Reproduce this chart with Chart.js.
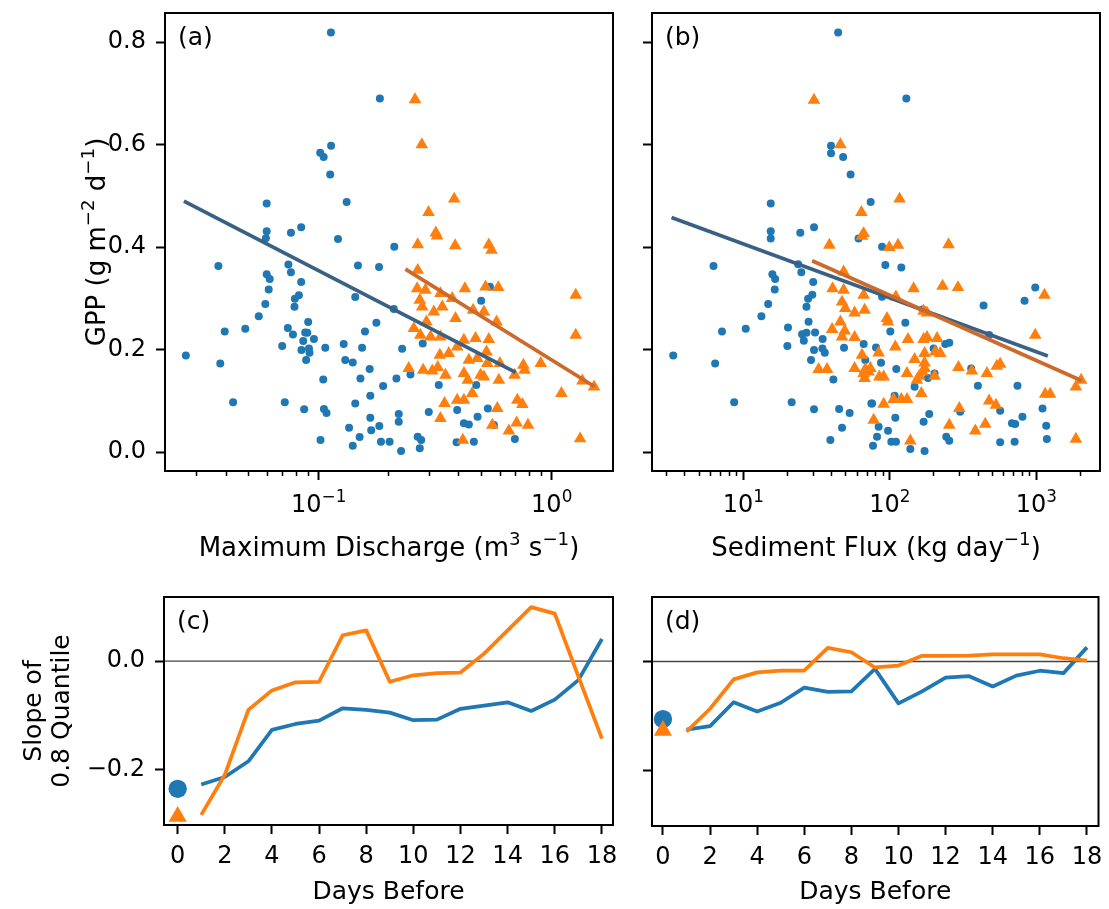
<!DOCTYPE html>
<html>
<head>
<meta charset="utf-8">
<script src="https://cdn.jsdelivr.net/npm/chart.js@4.4.0/dist/chart.umd.min.js"></script>
<style>
  body { margin: 0; background: #fff; }
  #wrap { position: relative; width: 1109px; height: 909px; }
  canvas { position: absolute; }
</style>
</head>
<body>
<div id="wrap">
  <canvas id="chartA" width="640" height="580" style="left:0;top:0"></canvas>
  <canvas id="chartB" width="484" height="580" style="left:625px;top:0"></canvas>
  <canvas id="chartC" width="640" height="329" style="left:0;top:580px"></canvas>
  <canvas id="chartD" width="484" height="329" style="left:625px;top:580px"></canvas>
</div>
<script>
// ---- data: (a) GPP vs maximum discharge, [x, y]
const A_BLUE = [
  [0.1128,0.819],[0.183,0.690],[0.113,0.598],[0.1015,0.584],[0.105,0.576],[0.112,0.542],[0.0598,0.485],
  [0.1318,0.488],[0.0598,0.431],[0.076,0.428],[0.0841,0.439],[0.0593,0.4175],[0.121,0.416],[0.211,0.4006],
  [0.0371,0.363],[0.0741,0.366],[0.076,0.351],[0.0598,0.347],[0.0616,0.3376],[0.0841,0.332],[0.061,0.3175],
  [0.0822,0.306],[0.079,0.299],[0.059,0.289],[0.0787,0.2835],[0.0553,0.265],[0.0901,0.2537],[0.0395,0.2355],
  [0.0484,0.2406],[0.0737,0.242],[0.0775,0.2296],[0.0875,0.2335],[0.0893,0.2328],[0.0858,0.2166],[0.0954,0.2205],
  [0.0697,0.2068],[0.0843,0.199],[0.0908,0.2023],[0.0913,0.1938],[0.0883,0.1795],[0.1067,0.2035],[0.0269,0.1886],
  [0.0378,0.173],[0.128,0.2107],[0.1535,0.2035],[0.130,0.1795],[0.140,0.175],[0.158,0.2355],[0.1768,0.2523],
  [0.1435,0.3024],[0.1474,0.3643],[0.1815,0.361],[0.1655,0.162],[0.1046,0.1418],[0.151,0.1438],[0.189,0.1288],
  [0.1665,0.1099],[0.1435,0.095],[0.0429,0.097],[0.0715,0.097],[0.0866,0.0833],[0.1053,0.0839],[0.108,0.0761],
  [0.1665,0.067],[0.182,0.0507],[0.168,0.0423],[0.135,0.0474],[0.1498,0.0293],[0.1018,0.0234],[0.140,0.0124],
  [0.185,0.0201],[0.2015,0.0201],[0.543,0.3226],[0.498,0.2953],[0.21,0.279],[0.2795,0.212],[0.228,0.2016],
  [0.3275,0.1307],[0.2475,0.1516],[0.2155,0.1438],[0.4745,0.1307],[0.393,0.082],[0.2967,0.078],[0.532,0.0852],
  [0.4806,0.0689],[0.2205,0.0741],[0.2205,0.0591],[0.4197,0.056],[0.4408,0.054],[0.565,0.0527],[0.266,0.0299],
  [0.2753,0.0234],[0.2715,0.0072],[0.2257,0.002],[0.3904,0.019],[0.4633,0.0201],[0.695,0.0254]
];
const A_ORANGE = [
  [0.259,0.688],[0.277,0.600],[0.3815,0.494],[0.296,0.468],[0.318,0.428],[0.322,0.422],[0.266,0.405],
  [0.385,0.403],[0.537,0.4045],[0.552,0.394],[0.266,0.355],[0.2645,0.319],[0.287,0.316],[0.333,0.3096],
  [0.424,0.319],[0.520,0.3226],[0.590,0.3213],[1.268,0.3063],[0.2715,0.2966],[0.278,0.2835],[0.339,0.2835],
  [0.312,0.2738],[0.374,0.2999],[0.3865,0.261],[0.460,0.277],[0.5115,0.2738],[0.580,0.2542],[0.290,0.2542],
  [0.256,0.2413],[0.273,0.2283],[0.302,0.225],[0.333,0.225],[0.4197,0.2185],[0.471,0.2218],[0.537,0.2199],
  [0.393,0.2055],[0.3616,0.1926],[0.331,0.1893],[0.525,0.1957],[0.441,0.1795],[0.479,0.1828],[0.529,0.173],
  [0.599,0.173],[0.897,0.173],[0.7556,0.1698],[0.2433,0.1633],[0.2807,0.160],[0.307,0.1586],[0.3243,0.1653],
  [0.35,0.1502],[0.42,0.1535],[0.4365,0.1405],[0.495,0.1502],[0.5115,0.147],[0.593,0.1405],[0.693,0.1502],
  [0.765,0.160],[0.456,0.1145],[0.393,0.1015],[0.42,0.1015],[0.3467,0.095],[0.712,0.1015],[0.748,0.093],
  [0.584,0.0852],[0.333,0.0657],[0.556,0.0527],[0.707,0.0572],[0.791,0.0527],[0.655,0.0416],[0.4154,0.0234],
  [1.101,0.1145],[1.268,0.2283],[1.355,0.139],[1.52,0.1274],[1.324,0.026]
];
const A_FIT_BLUE = [[0.02639,0.4898],[0.70,0.1555]];
const A_FIT_ORANGE = [[0.2355,0.357],[1.531,0.1274]];

// ---- data: (b) GPP vs sediment flux, [x, y]
const B_BLUE = [
  [44.4,0.819],[39.7,0.598],[39.7,0.583],[48,0.576],[54,0.542],[15.4,0.485],[74,0.488],[15.4,0.431],
  [15.4,0.417],[24.5,0.428],[30.4,0.439],[61.2,0.417],[129.6,0.690],[88.5,0.4006],
  [6.27,0.363],[23.7,0.3668],[24.9,0.351],[15.8,0.347],[16.5,0.3376],[30,0.332],[16.4,0.3175],[29.6,0.307],
  [27.7,0.299],[14.8,0.289],[27,0.2835],[13.3,0.265],[27.9,0.2542],[7.16,0.2355],[10.4,0.2406],[20.2,0.2432],
  [25.2,0.230],[27,0.2328],[30.9,0.2335],[25.9,0.217],[34.8,0.2205],[20,0.2068],[30.4,0.199],[34.7,0.2023],
  [36,0.1938],[29,0.1795],[48.7,0.2035],[66.3,0.2107],[68,0.1795],[3.33,0.1886],[6.43,0.173],[41.2,0.1418],
  [75.7,0.095],[8.67,0.097],[21.4,0.097],[30.4,0.0833],[45.1,0.0839],[53.2,0.0761],[47.2,0.0474],[39.3,0.0234],
  [76.8,0.0124],[93.2,0.3649],[119.8,0.3604],[982,0.3213],[830,0.2953],[436,0.2862],[88.5,0.303],[167.4,0.2784],
  [127.6,0.2523],[100.8,0.2355],[476,0.2283],[238.8,0.2107],[254.4,0.2133],[199,0.2023],[80.5,0.2043],[87.1,0.1743],
  [110.7,0.162],[359,0.1633],[202,0.1535],[182,0.1444],[147.6,0.1274],[399,0.1294],[743,0.1294],[107.8,0.1099],
  [74.8,0.095],[109,0.067],[83.9,0.0494],[97.2,0.0416],[81.8,0.0299],[102.4,0.0201],[110.2,0.0201],[138,0.0059],
  [172.6,0.002],[170,0.0591],[185.7,0.0741],[242.6,0.0299],[254.4,0.022],[302,0.0787],[566,0.0806],[681,0.056],
  [716,0.0546],[803,0.0689],[566,0.0189],[710,0.0201],[1101,0.0852],[1167,0.0513],[1179,0.0254]
];
const B_ORANGE = [
  [30.4,0.687],[46,0.600],[64,0.468],[66.3,0.4267],[64.6,0.4215],[38.7,0.404],[116.6,0.494],[113.7,0.404],
  [99.2,0.3994],[251.7,0.405],[48.4,0.3518],[40.7,0.319],[48.4,0.316],[66.3,0.3063],[47.2,0.293],[49.7,0.2804],
  [57.5,0.2718],[67.3,0.277],[46,0.2542],[40.4,0.2394],[49.2,0.2367],[47.2,0.225],[57.5,0.2238],[64.6,0.1893],
  [32.7,0.1614],[37.3,0.1614],[57.5,0.1633],[68,0.1616],[73.6,0.1633],[66.3,0.1535],[67.3,0.1438],[77.6,0.0624],
  [145.3,0.319],[229,0.3239],[291.7,0.3213],[1135,0.3063],[110,0.303],[170,0.2751],[179.3,0.2718],[95.6,0.261],
  [97.2,0.2542],[982,0.2283],[133,0.2199],[170,0.2199],[179.3,0.2238],[210,0.2218],[109,0.2055],[83.9,0.1938],
  [172.6,0.1926],[204,0.1957],[220.8,0.1926],[147.6,0.1809],[172.6,0.1743],[71.6,0.1567],[172.6,0.1633],
  [294,0.1653],[363,0.1586],[460,0.1535],[537,0.1678],[566,0.1717],[131,0.1535],[158.8,0.1483],[202,0.1483],
  [167.4,0.1567],[84.8,0.147],[90.8,0.147],[153,0.1405],[164,0.1145],[106.1,0.1028],[119.8,0.1028],[131,0.1028],
  [90.8,0.0937],[298,0.0852],[476,0.1001],[530,0.0917],[1148,0.1132],[1241,0.1132],[1859,0.1274],[2019,0.1405],
  [1859,0.0254],[254.4,0.0527],[383,0.0416],[448,0.0546],[138,0.022]
];
const B_FIT_BLUE = [[3.24,0.458],[1197,0.1873]];
const B_FIT_ORANGE = [[29.5,0.3733],[2040,0.139]];

// ---- data: (c), (d) slope of 0.8 quantile vs days before
const DAYS = [1,2,3,4,5,6,7,8,9,10,11,12,13,14,15,16,17,18];
const C_BLUE = [-0.228,-0.214,-0.185,-0.127,-0.116,-0.110,-0.087,-0.090,-0.095,-0.109,-0.108,-0.088,-0.082,-0.076,-0.092,-0.071,-0.035,0.041];
const C_ORANGE = [-0.284,-0.210,-0.090,-0.054,-0.039,-0.038,0.048,0.057,-0.038,-0.026,-0.022,-0.021,0.014,0.057,0.100,0.088,-0.028,-0.143];
const C_DAY0 = { blue: -0.236, orange: -0.287 };
const D_BLUE = [-0.1255,-0.119,-0.075,-0.092,-0.076,-0.048,-0.056,-0.055,-0.0135,-0.077,-0.055,-0.0295,-0.027,-0.046,-0.026,-0.017,-0.0215,0.026];
const D_ORANGE = [-0.129,-0.087,-0.033,-0.020,-0.0166,-0.0166,0.025,0.017,-0.011,-0.0074,0.0105,0.0105,0.011,0.013,0.013,0.013,0.006,0.0018];
const D_DAY0 = { blue: -0.106, orange: -0.127 };

// ---- tick labels and axis titles ([text, superscript?] pieces)
const GPP_TICKS = [0, 0.2, 0.4, 0.6, 0.8];
const SLOPE_TICKS = [-0.2, 0];
const DAY_TICKS = [0, 2, 4, 6, 8, 10, 12, 14, 16, 18];
const GPP_TITLE = [['GPP (g m', false], ['\u22122', true], [' d', false], ['\u22121', true], [')', false]];
const DISCHARGE_TITLE = [['Maximum Discharge (m', false], ['3', true], [' s', false], ['\u22121', true], [')', false]];
const FLUX_TITLE = [['Sediment Flux (kg day', false], ['\u22121', true], [')', false]];

const BLUE = '#1f77b4';
const ORANGE = '#ff7f0e';
const FIT_BLUE = '#3a6184';
const FIT_ORANGE = '#cc6a2c';
const FAMILY = "'DejaVu Sans', sans-serif";
const TICK_SIZE = 24;
const TITLE_SIZE = 25;
const RICH_TITLE_SIZE = 26;
const TICK_FONT = { family: FAMILY, size: TICK_SIZE, lineHeight: 1.2 };
const TITLE_FONT = { family: FAMILY, size: TITLE_SIZE, lineHeight: 1.2 };

Chart.defaults.font.family = FAMILY;
Chart.defaults.color = '#000';

function pts(arr) {
  return arr.map(p => ({ x: p[0], y: p[1] }));
}

function isDecade(v) {
  const l = Math.log10(v);
  return Math.abs(l - Math.round(l)) < 1e-9;
}

// 1..9 x 10^n values inside [min, max]
function logTicks(min, max) {
  const out = [];
  for (let e = Math.floor(Math.log10(min)); e <= Math.ceil(Math.log10(max)); e++) {
    for (let m = 1; m <= 9; m++) {
      const v = +(m * Math.pow(10, e)).toPrecision(6);
      if (v >= min && v <= max) out.push(v);
    }
  }
  return out;
}

function fixedTicks(list) {
  return scale => { scale.ticks = list.map(v => ({ value: v })); };
}

// keep the axis box to a set size and stop label overhang from moving the plot area
function fixSize(w, h) {
  return scale => {
    if (w !== null) scale.width = w;
    if (h !== null) scale.height = h;
    scale.paddingTop = 0;
    scale.paddingBottom = 0;
    scale.paddingLeft = 0;
    scale.paddingRight = 0;
  };
}

// text with mathtext-like superscripts, centred on (cx, cy)
function drawRich(ctx, parts, size, cx, cy, rotate) {
  ctx.save();
  ctx.translate(cx, cy);
  if (rotate) ctx.rotate(-Math.PI / 2);
  const fontOf = sup => (sup ? size * 0.7 : size) + 'px ' + FAMILY;
  const widths = parts.map(([t, sup]) => { ctx.font = fontOf(sup); return ctx.measureText(t).width; });
  let x = -widths.reduce((s, w) => s + w, 0) / 2;
  ctx.textAlign = 'left';
  ctx.textBaseline = 'alphabetic';
  ctx.fillStyle = '#000';
  parts.forEach(([t, sup], i) => {
    ctx.font = fontOf(sup);
    ctx.fillText(t, x, size * 0.31 - (sup ? size * 0.42 : 0));
    x += widths[i];
  });
  ctx.restore();
}

// frame on all four sides plus the panel letter
const framePlugin = {
  id: 'frame',
  afterDatasetsDraw(chart, args, opts) {
    const { ctx, chartArea: a } = chart;
    ctx.save();
    ctx.strokeStyle = '#000';
    ctx.lineWidth = 2;
    ctx.strokeRect(a.left, a.top, a.right - a.left, a.bottom - a.top);
    ctx.font = TITLE_SIZE + 'px ' + FAMILY;
    ctx.fillStyle = '#000';
    ctx.textBaseline = 'middle';
    ctx.fillText(opts.label, a.left + 13, a.top + 25);
    ctx.restore();
  }
};

// decade tick labels (10 with a raised exponent) and axis titles with superscripts
const richPlugin = {
  id: 'rich',
  afterDraw(chart, args, opts) {
    const { ctx, chartArea: a, scales } = chart;
    const xs = scales.x;
    xs.ticks.forEach(t => {
      const e = String(Math.round(Math.log10(t.value))).replace('-', '\u2212');
      drawRich(ctx, [['10', false], [e, true]], TICK_SIZE, xs.getPixelForValue(t.value), a.bottom + 34, false);
    });
    drawRich(ctx, opts.xTitle, RICH_TITLE_SIZE, (a.left + a.right) / 2, a.bottom + 77, false);
    if (opts.yTitle) drawRich(ctx, opts.yTitle, RICH_TITLE_SIZE, a.left - 68, (a.top + a.bottom) / 2, true);
  }
};

const majorGrid = { drawOnChartArea: false, drawTicks: true, tickLength: 9, tickColor: '#000', tickWidth: 2 };
const minorGrid = { drawOnChartArea: false, drawTicks: true, tickLength: 5, tickColor: '#000', tickWidth: 1.5 };

function scatterChart(id, cfg) {
  const all = logTicks(cfg.xMin, cfg.xMax);
  const majors = all.filter(isDecade);
  const minors = all.filter(v => !isDecade(v));
  new Chart(document.getElementById(id), {
    type: 'scatter',
    data: {
      datasets: [
        { data: pts(cfg.fitOrange), showLine: true, borderColor: FIT_ORANGE, borderWidth: 3.75, pointRadius: 0, order: 0 },
        { data: pts(cfg.fitBlue), showLine: true, borderColor: FIT_BLUE, borderWidth: 3.75, pointRadius: 0, order: 1 },
        { data: pts(cfg.orange), pointStyle: 'triangle', pointRadius: 7.3, backgroundColor: ORANGE, borderWidth: 0, order: 2 },
        { data: pts(cfg.blue), pointStyle: 'circle', pointRadius: 4, backgroundColor: BLUE, borderWidth: 0, order: 3 }
      ]
    },
    options: {
      responsive: false,
      animation: false,
      devicePixelRatio: 1,
      events: [],
      layout: { padding: cfg.padding },
      plugins: {
        legend: { display: false },
        tooltip: { enabled: false },
        frame: { label: cfg.label },
        rich: { xTitle: cfg.xTitle, yTitle: cfg.yTitle }
      },
      scales: {
        xm: {
          type: 'logarithmic',
          position: 'bottom',
          weight: 0,
          min: cfg.xMin,
          max: cfg.xMax,
          afterBuildTicks: fixedTicks(minors),
          afterFit: fixSize(null, 0),
          grid: minorGrid,
          border: { display: false },
          ticks: { autoSkip: false, maxRotation: 0, callback: () => '' }
        },
        x: {
          type: 'logarithmic',
          position: 'bottom',
          weight: 1,
          min: cfg.xMin,
          max: cfg.xMax,
          afterBuildTicks: fixedTicks(majors),
          afterFit: fixSize(null, cfg.xHeight),
          grid: majorGrid,
          border: { display: false },
          ticks: { autoSkip: false, maxRotation: 0, font: TICK_FONT, callback: () => '' }
        },
        y: {
          min: -0.037,
          max: 0.857,
          afterBuildTicks: fixedTicks(GPP_TICKS),
          afterFit: fixSize(cfg.yWidth, null),
          grid: majorGrid,
          border: { display: false },
          ticks: { font: TICK_FONT, color: '#000', padding: 10, callback: v => cfg.yLabels ? v.toFixed(1) : '' }
        }
      }
    },
    plugins: [framePlugin, richPlugin]
  });
}

function slopeLabel(v) {
  if (Math.abs(v) < 1e-9) return '0.0';
  return (v < 0 ? '\u2212' : '') + Math.abs(v).toFixed(1);
}

function slopeChart(id, cfg) {
  new Chart(document.getElementById(id), {
    type: 'scatter',
    data: {
      datasets: [
        { data: [{ x: 0, y: cfg.day0.orange }], pointStyle: 'triangle', pointRadius: 10.5, backgroundColor: ORANGE, borderWidth: 0, order: 0 },
        { data: [{ x: 0, y: cfg.day0.blue }], pointStyle: 'circle', pointRadius: 9.2, backgroundColor: BLUE, borderWidth: 0, order: 1 },
        { data: DAYS.map((d, i) => ({ x: d, y: cfg.orange[i] })), showLine: true, borderColor: ORANGE, borderWidth: 3.75, borderJoinStyle: 'round', pointRadius: 0, order: 2 },
        { data: DAYS.map((d, i) => ({ x: d, y: cfg.blue[i] })), showLine: true, borderColor: BLUE, borderWidth: 3.75, borderJoinStyle: 'round', pointRadius: 0, order: 3 },
        { data: [{ x: -5, y: 0 }, { x: 25, y: 0 }], showLine: true, borderColor: '#444', borderWidth: 1.3, pointRadius: 0, order: 4 }
      ]
    },
    options: {
      responsive: false,
      animation: false,
      devicePixelRatio: 1,
      events: [],
      layout: { padding: cfg.padding },
      plugins: { legend: { display: false }, tooltip: { enabled: false }, frame: { label: cfg.label } },
      scales: {
        x: {
          min: cfg.xMin,
          max: cfg.xMax,
          afterBuildTicks: fixedTicks(DAY_TICKS),
          afterFit: fixSize(null, cfg.xHeight),
          grid: majorGrid,
          border: { display: false },
          ticks: { autoSkip: false, maxRotation: 0, font: TICK_FONT, color: '#000', padding: 8, callback: v => String(v) },
          title: { display: true, text: 'Days Before', font: TITLE_FONT, color: '#000', padding: { top: 0, bottom: 2 } }
        },
        y: {
          min: -0.3028,
          max: 0.1187,
          afterBuildTicks: fixedTicks(SLOPE_TICKS),
          afterFit: fixSize(cfg.yWidth, null),
          grid: majorGrid,
          border: { display: false },
          ticks: { font: TICK_FONT, color: '#000', padding: 10, callback: v => cfg.yLabels ? slopeLabel(v) : '' },
          title: cfg.yTitle
            ? { display: true, text: cfg.yTitle, font: { family: FAMILY, size: TITLE_SIZE, lineHeight: 1.1 }, color: '#000', padding: { top: 21, bottom: 0 } }
            : { display: false }
        }
      }
    },
    plugins: [framePlugin]
  });
}

scatterChart('chartA', {
  label: '(a)', blue: A_BLUE, orange: A_ORANGE, fitBlue: A_FIT_BLUE, fitOrange: A_FIT_ORANGE,
  xMin: 0.02189, xMax: 1.8325, xTitle: DISCHARGE_TITLE, yTitle: GPP_TITLE, yLabels: true,
  yWidth: 165, xHeight: 109, padding: { left: 0, top: 13, right: 27, bottom: 0 }
});

scatterChart('chartB', {
  label: '(b)', blue: B_BLUE, orange: B_ORANGE, fitBlue: B_FIT_BLUE, fitOrange: B_FIT_ORANGE,
  xMin: 2.385, xMax: 2716, xTitle: FLUX_TITLE, yTitle: null, yLabels: false,
  yWidth: 27, xHeight: 109, padding: { left: 0, top: 13, right: 9, bottom: 0 }
});

slopeChart('chartC', {
  label: '(c)', blue: C_BLUE, orange: C_ORANGE, day0: C_DAY0,
  xMin: -0.58, xMax: 18.47, yTitle: ['Slope of', '0.8 Quantile'], yLabels: true,
  yWidth: 164, xHeight: 84, padding: { left: 0, top: 17, right: 27, bottom: 0 }
});

slopeChart('chartD', {
  label: '(d)', blue: D_BLUE, orange: D_ORANGE, day0: D_DAY0,
  xMin: -0.465, xMax: 18.49, yTitle: null, yLabels: false,
  yWidth: 27, xHeight: 83, padding: { left: 0, top: 17, right: 8, bottom: 0 }
});
</script>
</body>
</html>
